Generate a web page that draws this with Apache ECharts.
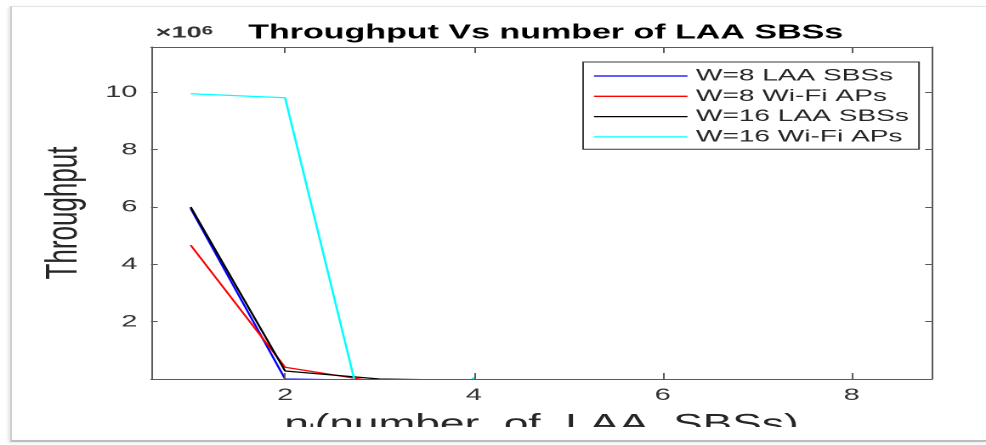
<!DOCTYPE html>
<html><head><meta charset="utf-8">
<script src="https://cdn.jsdelivr.net/npm/echarts@6/dist/echarts.min.js"></script>
<style>
html,body{margin:0;padding:0;background:#fff;width:986px;height:445px;overflow:hidden;}
#frame{position:absolute;left:10px;top:6px;width:974px;height:433px;border-left:2px solid #cfcfcf;border-top:1px solid #e4e4e4;border-bottom:2px solid #bdbdbd;box-shadow:-2px 1px 3px rgba(0,0,0,0.10);}
#chart{position:absolute;left:0;top:0;width:580px;height:427px;transform:scaleX(1.7);transform-origin:0 0;}
</style></head><body><div id="frame"></div><div id="chart"></div>
<script>
// ---- data (values in throughput units; axis shows ×10^6) ----
const xValues = [1, 2, 3, 4];
const seriesNames = ['W=8 LAA SBSs', 'W=8 Wi-Fi APs', 'W=16 LAA SBSs', 'W=16 Wi-Fi APs'];
const w8LAA   = [5950000, 0, -50000, -50000];
const w8WiFi  = [4670000, 410000, -110000, -50000];
const w16LAA  = [6000000, 280000, 0, -50000];
const w16WiFi = [9950000, 9810000, -3600000, 60000];
const xTickValues = [2, 4, 6, 8];
const yTickValues = [2000000, 4000000, 6000000, 8000000, 10000000];
const titleText = 'Throughput Vs number of LAA SBSs';
const yAxisName = 'Throughput';

const FONT = 'Liberation Sans, Arial, Helvetica, sans-serif';
const colors = ['#0000ff', '#ff0000', '#000000', '#00ffff'];
const allSeries = [w8LAA, w8WiFi, w16LAA, w16WiFi];
const AX = '#5a5a5a';

const chart = echarts.init(document.getElementById('chart'), null, {renderer: 'canvas', devicePixelRatio: 2});

function axisCommon(extra) {
  return Object.assign({
    type: 'value',
    axisLine: {show: true, onZero: false, lineStyle: {color: AX, width: 1}},
    splitLine: {show: false},
    z: 5
  }, extra);
}

const option = {
  animation: false,
  backgroundColor: 'transparent',
  title: [
    {text: titleText, left: 146, top: 23, padding: 0,
     textStyle: {fontFamily: FONT, fontSize: 20, fontWeight: 'bold', color: '#000'}},
    {text: '{a|×10}{b|6}', left: 91.5, top: 25, padding: 0,
     textStyle: {rich: {
       a: {fontFamily: FONT, fontSize: 16, color: '#333'},
       b: {fontFamily: FONT, fontSize: 12, color: '#333', verticalAlign: 'top'}
     }}}
  ],
  legend: {
    orient: 'vertical', left: 343, top: 62,
    padding: [5.5, 6, 3.8, 6.4],
    icon: 'rect',
    itemWidth: 55, itemHeight: 1.3, itemGap: 3.3,
    backgroundColor: '#fff', borderColor: '#3a3a3a', borderWidth: 1,
    selectedMode: false,
    textStyle: {fontFamily: FONT, fontSize: 16.5, color: '#262626', lineHeight: 16},
    data: seriesNames
  },
  grid: {left: 88.8, top: 47, width: 459.4, height: 332, containLabel: false, outerBoundsMode: 'none'},
  xAxis: [
    axisCommon({
      position: 'bottom', min: 0.58, max: 8.85,
      axisTick: {show: true, inside: true, length: 6, customValues: xTickValues, lineStyle: {color: AX}},
      axisLabel: {customValues: xTickValues, fontFamily: FONT, fontSize: 17, color: '#333', margin: 8},
      name: '{n|n}{s|l}{n|(number  of  LAA  SBSs)}',
      nameLocation: 'middle', nameGap: 33,
      nameTextStyle: {fontFamily: FONT, fontSize: 26, color: '#262626', rich: {
        n: {fontFamily: FONT, fontSize: 26, color: '#262626'},
        s: {fontFamily: FONT, fontSize: 15, color: '#262626', verticalAlign: 'bottom'}
      }}
    }),
    axisCommon({
      position: 'top', min: 0.58, max: 8.85,
      axisTick: {show: true, inside: true, length: 6, customValues: xTickValues, lineStyle: {color: AX}},
      axisLabel: {show: false}
    })
  ],
  yAxis: [
    axisCommon({
      position: 'left', min: 0, max: 11580000,
      axisTick: {show: true, inside: true, length: 4, customValues: yTickValues, lineStyle: {color: AX}},
      axisLabel: {customValues: yTickValues, fontFamily: FONT, fontSize: 17, color: '#333', margin: 8,
        formatter: v => String(Math.round(v / 1e6))},
      name: yAxisName, nameLocation: 'middle', nameGap: 28, nameRotate: 90,
      nameTextStyle: {fontFamily: FONT, fontSize: 26, color: '#262626'}
    }),
    axisCommon({
      position: 'right', min: 0, max: 11580000,
      axisTick: {show: true, inside: true, length: 4, customValues: yTickValues, lineStyle: {color: AX}},
      axisLabel: {show: false}
    })
  ],
  series: seriesNames.map((name, i) => ({
    name: name,
    type: 'line',
    xAxisIndex: 0, yAxisIndex: 0,
    symbol: 'none', showSymbol: false,
    clip: true,
    color: colors[i],
    lineStyle: {color: colors[i], width: 1.3},
    data: xValues.map((x, k) => [x, allSeries[i][k]]),
    z: 2
  }))
};
chart.setOption(option);
</script>
</body></html>
